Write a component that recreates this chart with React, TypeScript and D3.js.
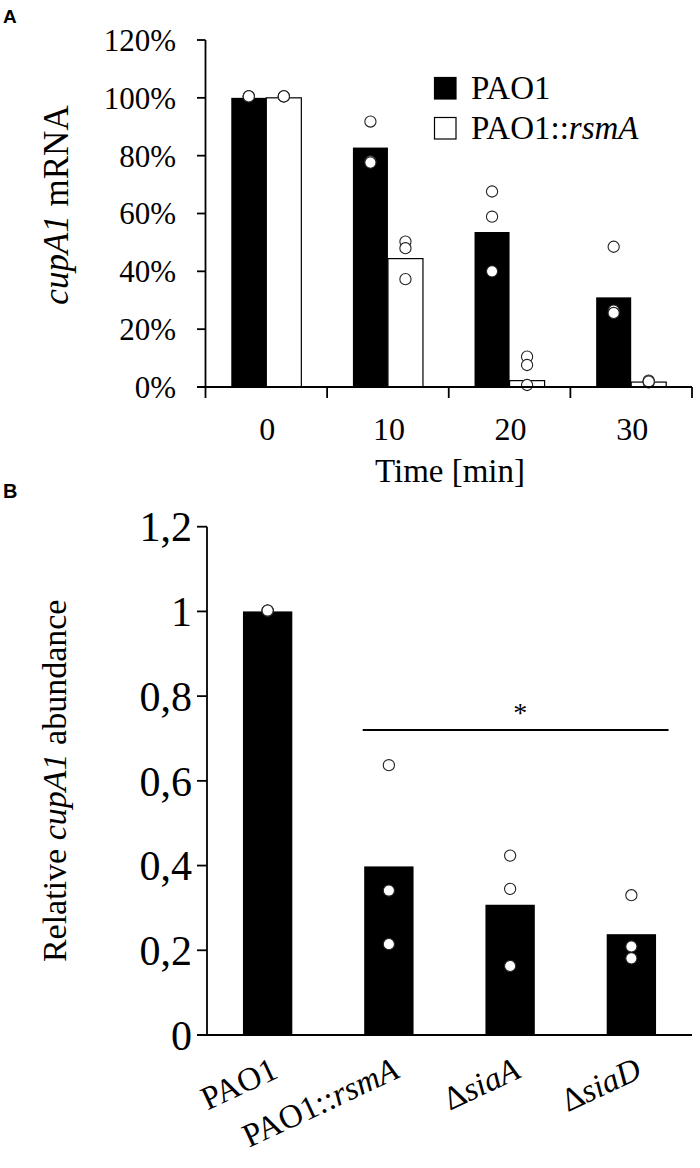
import React from "react";
import * as d3 from "d3";

// ---------- Panel A data ----------
const timeLabels = ["0", "10", "20", "30"];
const seriesNames = ["PAO1", "PAO1::_rsmA_"];
const pao1Means = [100, 82.8, 53.6, 31.0];
const rsmAMeans = [100, 44.4, 2.2, 1.7];
const pao1Points = [
  [100.5, 100.5, 100.5],
  [91.8, 78.0, 77.6],
  [67.6, 58.9, 40.0],
  [48.5, 26.4, 25.6],
];
const rsmAPoints = [
  [100.5, 100.5, 100.5],
  [50.3, 48.0, 37.3],
  [10.5, 7.6, 0.7],
  [2.2, 1.6, 1.9],
];
const aTicks = [0, 20, 40, 60, 80, 100, 120];

// ---------- Panel B data ----------
const strains = ["PAO1", "PAO1::_rsmA_", "Δ_siaA_", "Δ_siaD_"];
const bMeans = [1.0, 0.398, 0.3075, 0.238];
const bPoints = [
  [1.002, 1.002, 1.002],
  [0.637, 0.341, 0.2145],
  [0.4235, 0.345, 0.163],
  [0.33, 0.209, 0.181],
];
const bTicks = [0, 0.2, 0.4, 0.6, 0.8, 1, 1.2];
const bTickLabels = ["0", "0,2", "0,4", "0,6", "0,8", "1", "1,2"];
const sigLevel = 0.72;

const SERIF = "'Liberation Serif', 'Times New Roman', Times, serif";
const SANS = "'Liberation Sans', Arial, Helvetica, sans-serif";

function Rich({ s }: { s: string }) {
  const parts = s.split("_");
  return (
    <>
      {parts.map((p, i) =>
        p === "" ? null : (
          <tspan key={i} fontStyle={i % 2 === 1 ? "italic" : "normal"}>
            {p}
          </tspan>
        )
      )}
    </>
  );
}

export default function App() {
  // Panel A scales
  const axA = d3.scaleBand<string>().domain(timeLabels).range([205.5, 692]);
  const ayA = d3.scaleLinear().domain([0, 120]).range([387, 40]);
  const stepA = axA.step();
  const barWA = stepA * 0.288;
  const centerA = (t: string) => (axA(t) as number) + stepA / 2;

  // Panel B scales
  const axB = d3.scaleBand<string>().domain(strains).range([207, 692]);
  const ayB = d3.scaleLinear().domain([0, 1.2]).range([1035, 526.7]);
  const stepB = axB.step();
  const barWB = stepB * 0.407;
  const centerB = (s: string) => (axB(s) as number) + stepB / 2;

  const dotR = 5.6;
  const axisW = 1.8;

  return (
    <svg
      width={700}
      height={1168}
      style={{ position: "absolute", left: 0, top: 0, background: "#fff" }}
    >
      <rect x={0} y={0} width={700} height={1168} fill="#fff" />

      {/* ================= Panel A ================= */}
      <text x={3} y={23} fontFamily={SANS} fontWeight="bold" fontSize={19}>
        A
      </text>

      {/* bars */}
      {timeLabels.map((t, i) => (
        <g key={"ab" + t}>
          <rect
            x={centerA(t) - barWA}
            y={ayA(pao1Means[i])}
            width={barWA}
            height={ayA(0) - ayA(pao1Means[i])}
            fill="#000"
          />
          <rect
            x={centerA(t)}
            y={ayA(rsmAMeans[i])}
            width={barWA}
            height={ayA(0) - ayA(rsmAMeans[i])}
            fill="#fff"
            stroke="#000"
            strokeWidth={1.2}
          />
        </g>
      ))}

      {/* dots */}
      {timeLabels.map((t, i) => (
        <g key={"ad" + t}>
          {pao1Points[i].map((v, j) => (
            <circle
              key={"p" + j}
              cx={centerA(t) - barWA / 2}
              cy={ayA(v)}
              r={dotR}
              fill="#fff"
              stroke="#222"
              strokeWidth={1.1}
            />
          ))}
          {rsmAPoints[i].map((v, j) => (
            <circle
              key={"r" + j}
              cx={centerA(t) + barWA / 2}
              cy={ayA(v)}
              r={dotR}
              fill="#fff"
              stroke="#222"
              strokeWidth={1.1}
            />
          ))}
        </g>
      ))}

      {/* axes A */}
      <line x1={205.5} x2={205.5} y1={ayA(120)} y2={398} stroke="#000" strokeWidth={axisW} />
      <line x1={197} x2={692} y1={ayA(0)} y2={ayA(0)} stroke="#000" strokeWidth={axisW} />
      {aTicks.map((v) => (
        <g key={"at" + v}>
          <line x1={197} x2={205.5} y1={ayA(v)} y2={ayA(v)} stroke="#000" strokeWidth={axisW} />
          <text
            x={176}
            y={ayA(v)}
            dy="0.35em"
            textAnchor="end"
            fontFamily={SERIF}
            fontSize={31}
          >
            {v + "%"}
          </text>
        </g>
      ))}
      {timeLabels.map((t) => (
        <line
          key={"ct" + t}
          x1={(axA(t) as number) + stepA}
          x2={(axA(t) as number) + stepA}
          y1={ayA(0)}
          y2={398}
          stroke="#000"
          strokeWidth={axisW}
        />
      ))}
      {timeLabels.map((t) => (
        <text
          key={"xl" + t}
          x={centerA(t) + 1}
          y={440}
          textAnchor="middle"
          fontFamily={SERIF}
          fontSize={32}
        >
          {t}
        </text>
      ))}
      <text x={450} y={482} textAnchor="middle" fontFamily={SERIF} fontSize={33}>
        Time [min]
      </text>
      <text
        transform={`translate(56, 205) rotate(-90)`}
        dy="0.35em"
        textAnchor="middle"
        fontFamily={SERIF}
        fontSize={35}
      >
        <Rich s="_cupA1_ mRNA" />
      </text>

      {/* legend */}
      {seriesNames.map((n, i) => (
        <g key={"lg" + i} transform={`translate(434, ${77 + i * 40})`}>
          <rect
            x={0.5}
            y={0.5}
            width={21.5}
            height={21.5}
            fill={i === 0 ? "#000" : "#fff"}
            stroke="#000"
            strokeWidth={1.2}
          />
          <text x={37} y={22} fontFamily={SERIF} fontSize={33}>
            <Rich s={n} />
          </text>
        </g>
      ))}

      {/* ================= Panel B ================= */}
      <text x={3} y={498} fontFamily={SANS} fontWeight="bold" fontSize={20}>
        B
      </text>

      {strains.map((s, i) => (
        <rect
          key={"bb" + i}
          x={centerB(s) - barWB / 2}
          y={ayB(bMeans[i])}
          width={barWB}
          height={ayB(0) - ayB(bMeans[i])}
          fill="#000"
        />
      ))}
      {strains.map((s, i) =>
        bPoints[i].map((v, j) => (
          <circle
            key={"bd" + i + "_" + j}
            cx={centerB(s)}
            cy={ayB(v)}
            r={dotR}
            fill="#fff"
            stroke="#222"
            strokeWidth={1.1}
          />
        ))
      )}

      {/* significance */}
      <line
        x1={centerB(strains[1]) - barWB / 2 - 1.5}
        x2={centerB(strains[3]) + barWB / 2 + 12.5}
        y1={ayB(sigLevel)}
        y2={ayB(sigLevel)}
        stroke="#000"
        strokeWidth={2}
      />
      <text
        x={centerB(strains[2]) + 10}
        y={ayB(sigLevel) - 8}
        textAnchor="middle"
        fontFamily={SERIF}
        fontSize={28}
      >
        *
      </text>

      {/* axes B */}
      <line x1={207} x2={207} y1={ayB(1.2)} y2={ayB(0)} stroke="#000" strokeWidth={axisW} />
      <line x1={197} x2={692} y1={ayB(0)} y2={ayB(0)} stroke="#000" strokeWidth={axisW} />
      {bTicks.map((v, i) => (
        <g key={"bt" + i}>
          <line x1={197} x2={207} y1={ayB(v)} y2={ayB(v)} stroke="#000" strokeWidth={axisW} />
          <text
            x={192}
            y={ayB(v)}
            dy="0.35em"
            textAnchor="end"
            fontFamily={SERIF}
            fontSize={42}
          >
            {bTickLabels[i]}
          </text>
        </g>
      ))}
      {strains.map((s, i) => (
        <text
          key={"bx" + i}
          transform={`translate(${centerB(s) + 12}, 1077) rotate(-25)`}
          textAnchor="end"
          fontFamily={SERIF}
          fontSize={33}
        >
          <Rich s={s} />
        </text>
      ))}
      <text
        transform={`translate(54, ${(ayB(0) + ayB(1.2)) / 2}) rotate(-90)`}
        dy="0.35em"
        textAnchor="middle"
        fontFamily={SERIF}
        fontSize={34}
      >
        <Rich s="Relative _cupA1_ abundance" />
      </text>
    </svg>
  );
}
